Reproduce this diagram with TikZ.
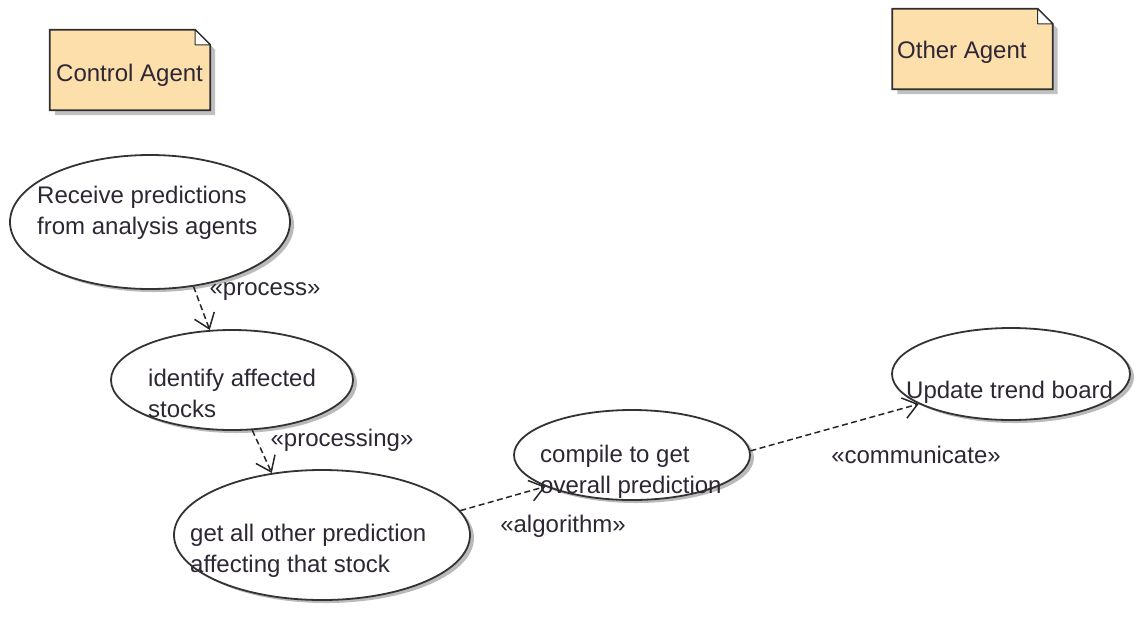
\documentclass[tikz,border=0pt]{standalone}
\usepackage{fontspec}
\setmainfont{Liberation Sans}
\usetikzlibrary{shapes.geometric,arrows.meta,shadows,backgrounds}
\definecolor{notefill}{RGB}{253,223,172}
\definecolor{inktext}{RGB}{45,38,52}

% folded-corner outline of an agent note box
\newcommand\agentoutline[1]{%
  \path[notebody]
    (#1.north west) -- ([xshift=-15pt]#1.north east) -- ([yshift=-15pt]#1.north east)
    -- (#1.south east) -- (#1.south west) -- cycle;
  \path[notefold]
    ([xshift=-15pt]#1.north east) -- ([xshift=-15pt,yshift=-15pt]#1.north east)
    -- ([yshift=-15pt]#1.north east) -- cycle;
}

\begin{document}
\begin{tikzpicture}[x=1pt,y=-1pt,
  font=\fontsize{24}{31}\selectfont,
  every node/.style={text=inktext},
  usecase/.style={ellipse, draw=black!80, line width=1.8pt, fill=white, inner sep=0pt,
    drop shadow={shadow xshift=4pt, shadow yshift=-3pt, fill=black!45, opacity=0.6}},
  usetext/.style={anchor=west, align=left, inner sep=0pt},
  agentbox/.style={inner sep=0pt, minimum width=160pt, minimum height=80pt},
  notebody/.style={fill=notefill, draw=black!82, line width=1.8pt,
    drop shadow={shadow xshift=5pt, shadow yshift=-5pt, fill=black!45, opacity=0.55}},
  notefold/.style={fill=white, draw=black!82, line width=1pt, line join=round},
  flow/.style={draw=black!85, line width=1.5pt, dash pattern=on 6pt off 3.5pt,
    -{Straight Barb[length=14pt,width=21pt,line width=1.5pt]}},
  stereo/.style={inner sep=0pt}
]
\useasboundingbox (0,0) rectangle (1137,633);

% agent notes
\node[agentbox] (ctrl) at (130,70) {};
\node[agentbox] (other) at (972.5,49) {};
\begin{scope}[on background layer]
  \agentoutline{ctrl}
  \agentoutline{other}
\end{scope}
\node[usetext] (ctrltxt) at (56,75) {Control Agent};
\node[usetext] (othertxt) at (897,52) {Other Agent};

% use cases
\node[usecase, minimum width=280pt, minimum height=134pt] (recv) at (150,222) {};
\node[usetext] (recvtxt) at (37,213) {Receive predictions\\from analysis agents};

\node[usecase, minimum width=242pt, minimum height=100pt] (ident) at (232,380) {};
\node[usetext] (identtxt) at (148,393) {identify affected\\stocks};

\node[usecase, minimum width=296pt, minimum height=130pt] (getall) at (322,535) {};
\node[usetext] (getalltxt) at (190,551) {get all other prediction\\affecting that stock};

\node[usecase, minimum width=236pt, minimum height=90pt] (compile) at (632,455) {};
\node[usetext] (compiletxt) at (540,472) {compile to get\\overall prediction};

\node[usecase, minimum width=238pt, minimum height=92pt] (update) at (1011,374) {};
\node[usetext] (updatetxt) at (906,392) {Update trend board};

% dependencies
\draw[flow] (recv.-56) -- (ident.114);
\draw[flow] (ident.-68) -- (getall.129);
\draw[flow] (getall.10) -- (compile.200);
\draw[flow] (compile.2) -- (update.198);

% stereotypes
\node[stereo] (lprocess) at (265,292) {«process»};
\node[stereo] (lprocessing) at (342,440) {«processing»};
\node[stereo] (lalgorithm) at (563,526) {«algorithm»};
\node[stereo] (lcommunicate) at (916,455) {«communicate»};
\end{tikzpicture}
\end{document}
